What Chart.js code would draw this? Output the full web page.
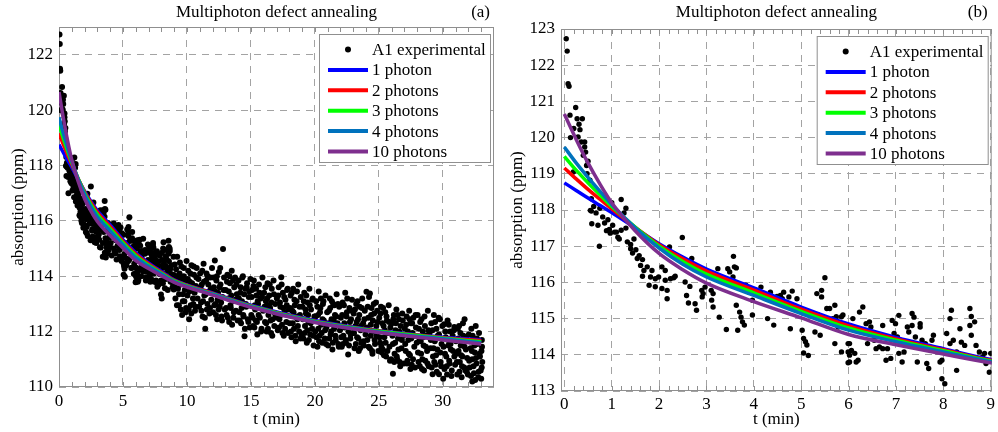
<!DOCTYPE html>
<html>
<head>
<meta charset="utf-8">
<script src="https://cdn.jsdelivr.net/npm/chart.js@4.4.1/dist/chart.umd.min.js"></script>
<style>
  html, body { margin: 0; padding: 0; background: #fff; }
  #wrap { position: relative; width: 998px; height: 432px; overflow: hidden; }
  .panel { position: absolute; top: 0; width: 499px; height: 432px; }
</style>
</head>
<body>
<div id="wrap">
  <div class="panel" style="left:0"><canvas id="chartA" width="499" height="432"></canvas></div>
  <div class="panel" style="left:499px"><canvas id="chartB" width="499" height="432"></canvas></div>
</div>
<script>
const FONT = "'Liberation Serif', 'Times New Roman', serif";

// fitted curves (t in minutes)
const curveTimes = [0, 0.25, 0.5, 0.75, 1, 1.5, 2, 2.5, 3, 4, 5, 6, 7, 8, 9, 12, 15, 20, 25, 30, 33];
const photon1  = [118.75, 118.54, 118.33, 118.13, 117.93, 117.5, 117.07, 116.7, 116.37, 115.85, 115.32, 114.85, 114.48, 114.17, 113.87, 113.4, 112.95, 112.4, 112.03, 111.8, 111.7];
const photon2  = [119.16, 118.86, 118.57, 118.3, 118.03, 117.52, 117.04, 116.65, 116.31, 115.79, 115.26, 114.8, 114.44, 114.14, 113.85, 113.38, 112.93, 112.38, 112.02, 111.78, 111.67];
const photon3  = [119.48, 119.1, 118.75, 118.42, 118.1, 117.52, 117.0, 116.58, 116.23, 115.71, 115.2, 114.74, 114.4, 114.11, 113.83, 113.36, 112.92, 112.37, 112.01, 111.76, 111.63];
const photon4  = [119.74, 119.3, 118.9, 118.52, 118.15, 117.5, 116.95, 116.5, 116.15, 115.64, 115.14, 114.68, 114.36, 114.08, 113.81, 113.35, 112.9, 112.35, 111.99, 111.74, 111.6];
const photon10 = [120.65, 119.95, 119.3, 118.72, 118.2, 117.42, 116.8, 116.35, 115.98, 115.47, 115.02, 114.56, 114.28, 114.02, 113.78, 113.32, 112.88, 112.33, 111.97, 111.7, 111.55];

const seriesLabels = ['1 photon', '2 photons', '3 photons', '4 photons', '10 photons'];
const seriesColors = ['#0000ff', '#ff0000', '#00ff00', '#0072bd', '#7e2f8e'];

// A1 measurement, first 9 minutes  [t (min), absorption (ppm)]
const expEarly = [
  [0.04,122.73],[0.06,122.39],[0.08,121.49],[0.1,121.42],[0.12,120.62],[0.24,120.83],[0.13,120.0],[0.2,120.25],
  [0.27,120.52],[0.31,120.37],[0.38,120.52],[0.33,120.22],[0.29,120.02],[0.36,119.88],[0.43,119.88],[0.43,119.74],
  [0.4,119.51],[0.47,119.23],[0.19,119.05],[0.48,119.0],[0.54,118.82],[0.45,119.6],[0.5,119.35],
  [0.57,118.31],[1.2,118.29],[0.57,117.97],[0.67,117.92],[1.26,117.92],[0.81,117.81],[0.92,117.73],[0.58,117.62],
  [0.71,117.58],[0.85,117.64],[1.02,117.58],[0.95,117.46],[1.06,117.39],[1.2,117.44],[1.13,117.25],[1.16,117.2],
  [0.74,117.0],[0.55,117.99],[0.89,117.43],[0.97,117.36],[1.1,117.39],[0.62,118.1],[0.75,118.05],[1.0,118.2],[1.3,118.05],
  [1.33,117.12],[1.4,117.05],[1.4,116.93],[1.51,116.9],[1.44,116.81],[1.58,116.74],[1.54,116.66],[1.65,116.63],
  [1.61,116.47],[1.75,116.43],[1.68,116.33],[1.85,116.33],[1.82,116.15],[1.99,116.15],[2.06,116.43],[2.13,116.33],
  [1.92,116.1],[1.65,116.17],[1.79,115.92],[1.92,115.88],[2.06,115.83],[2.13,116.06],[2.24,116.1],[2.31,116.13],
  [2.34,116.17],[2.17,115.78],[2.17,115.55],[2.22,116.98],[2.49,117.24],[2.69,116.66],[2.55,116.01],[2.65,115.89],
  [2.58,115.64],[2.62,115.43],[2.76,115.41],[2.79,115.23],[2.9,115.78],[2.97,115.87],[2.91,115.6],[1.3,117.5],[1.47,117.2],
  [2.93,115.69],[3.14,115.69],[3.11,115.51],[3.14,115.32],[3.27,115.04],[3.42,114.7],[3.24,116.38],[3.45,116.38],
  [3.49,116.29],[3.56,116.15],[3.59,116.43],[3.57,116.72],[3.63,115.37],[3.7,115.18],[3.73,115.04],[3.76,114.91],
  [3.66,114.68],[3.8,114.82],[3.83,115.92],[3.9,115.73],[3.97,115.51],[3.97,115.1],[4.15,115.87],[4.29,115.0],
  [4.35,115.73],[4.42,115.55],[4.42,114.82],[4.49,115.61],[4.56,115.64],[4.63,115.73],[4.6,115.55],[4.74,115.6],
  [4.81,115.76],[4.77,114.72],[4.91,115.55],[5.02,114.68],[5.05,114.45],[5.09,114.36],[5.12,114.27],[5.05,114.05],
  [5.15,113.98],[5.29,114.63],[5.33,115.69],[5.36,115.1],[5.4,114.54],[5.43,115.6],[5.43,115.78],[5.5,116.13],
  [5.54,115.28],[5.6,115.28],[5.71,115.37],[5.74,115.05],[5.67,115.0],[5.71,114.31],[5.78,114.77],[5.85,115.05],
  [5.88,115.1],[5.85,114.08],[5.99,114.08],[5.99,113.78],[6.02,113.99],[5.99,114.31],[3.1,115.78],[3.63,116.4],
  [6.09,115.0],[6.23,115.18],[6.3,115.32],[6.02,114.31],[6.06,114.12],[6.13,114.04],[6.02,113.8],[6.2,113.85],
  [6.16,113.8],[6.37,114.86],[6.44,114.91],[6.47,114.77],[6.4,114.31],[6.54,114.4],[6.58,114.17],[6.65,114.22],
  [6.72,114.81],[6.79,113.85],[6.89,113.9],[6.72,114.17],[6.82,114.17],[6.92,114.95],[6.99,114.86],[6.96,114.59],
  [7.03,114.49],[7.06,115.09],[7.06,114.04],[7.17,114.08],[7.13,113.8],[7.24,114.77],[7.34,115.14],[7.38,115.04],
  [7.27,114.63],[7.34,114.81],[7.41,114.49],[7.51,114.77],[7.51,114.86],[7.45,113.8],[7.55,114.4],[7.62,114.31],
  [7.65,113.76],[7.69,113.62],[7.76,114.4],[7.79,114.54],[7.86,114.08],[7.97,113.85],[7.93,113.8],[7.97,113.34],
  [8.03,113.2],[8.07,114.59],[8.14,114.31],[8.17,115.23],[8.14,115.0],[8.21,114.4],[8.28,114.08],[8.28,113.57],
  [8.35,114.72],[8.38,114.35],[8.45,114.26],[8.48,113.94],[8.56,115.28],[8.59,115.06],[8.56,114.81],[8.66,114.91],
  [8.59,114.54],[8.69,114.26],[8.76,114.08],[8.83,113.94],[8.9,113.76],[8.87,114.04],[8.97,113.52],[9.0,114.04]
];

// A1 measurement, 9 to 33 minutes
const expLate = [
  [9.05,114.42],[9.1,113.2],[9.18,113.9],[9.24,114.7],[9.3,113.55],[9.37,112.95],[9.42,114.1],[9.5,113.7],
  [9.56,114.35],[9.62,112.6],[9.68,113.35],[9.75,114.0],[9.8,113.1],[9.87,113.85],[9.93,112.85],[9.97,114.55],
  [10.04,113.3],[10.1,114.2],[10.17,112.45],[10.22,113.8],[10.3,112.95],[10.35,114.4],[10.42,113.55],[10.5,113.0],
  [10.55,114.05],[10.63,112.75],[10.7,113.65],[10.76,114.3],[10.83,113.2],[10.9,113.9],[10.95,112.9],
  [11.03,114.1],[11.1,113.05],[11.16,113.7],[11.22,112.55],[11.3,114.45],[11.36,113.3],[11.43,112.1],[11.5,113.85],
  [11.56,112.8],[11.62,114.0],[11.7,113.45],[11.76,112.65],[11.83,113.95],[11.9,113.15],[11.96,114.3],
  [12.04,112.7],[12.1,113.6],[12.18,114.57],[12.24,113.0],[12.3,113.85],[12.36,112.45],[12.43,113.4],[12.5,114.15],
  [12.56,112.9],[12.62,113.7],[12.7,112.55],[12.77,113.25],[12.82,114.98],[12.9,113.95],[12.95,112.8],
  [13.03,113.5],[13.1,112.6],[13.16,114.05],[13.23,113.2],[13.3,112.35],[13.36,113.75],[13.43,112.85],[13.5,114.2],
  [13.57,113.1],[13.63,112.5],[13.7,113.6],[13.76,113.95],[13.83,112.75],[13.9,113.35],[13.96,112.4],
  [14.03,113.85],[14.1,112.7],[14.17,113.4],[14.23,112.3],[14.3,113.1],[14.37,114.0],[14.43,112.55],[14.5,111.83],
  [14.56,113.55],[14.63,112.9],[14.7,113.75],[14.76,112.45],[14.83,113.25],[14.9,112.15],[14.96,113.9],
  [15.03,112.6],[15.1,113.5],[15.17,112.2],[15.23,113.85],[15.3,112.95],[15.37,112.4],[15.43,113.3],[15.5,111.9],
  [15.56,113.0],[15.63,113.7],[15.7,112.5],[15.76,113.2],[15.83,112.1],[15.9,113.95],[15.96,112.75],
  [16.03,113.4],[16.1,112.35],[16.17,113.1],[16.23,112.0],[16.3,113.75],[16.37,112.6],[16.43,113.3],[16.5,112.85],
  [16.57,111.95],[16.63,113.55],[16.7,112.45],[16.77,113.85],[16.83,112.2],[16.9,113.0],[16.96,112.55],
  [17.03,113.2],[17.1,112.05],[17.17,113.6],[17.23,112.45],[17.3,112.9],[17.37,113.96],[17.43,112.25],[17.5,113.4],
  [17.57,111.85],[17.63,112.7],[17.7,113.15],[17.77,112.35],[17.83,113.5],[17.9,111.95],[17.96,112.8],
  [18.03,112.3],[18.1,113.3],[18.17,111.8],[18.23,112.75],[18.3,113.55],[18.37,112.1],[18.43,112.95],[18.5,111.65],
  [18.57,113.1],[18.63,112.45],[18.7,113.7],[18.77,112.0],[18.83,112.6],[18.9,113.25],[18.96,111.9],
  [19.03,112.9],[19.1,111.75],[19.17,113.4],[19.23,112.2],[19.3,112.65],[19.37,111.6],[19.43,113.05],[19.5,112.35],
  [19.57,113.55],[19.63,111.9],[19.7,112.8],[19.77,112.1],[19.83,113.2],[19.9,111.5],[19.96,112.55],
  [20.03,112.0],[20.1,113.1],[20.2,111.45],[20.25,112.6],[20.3,113.45],[20.37,111.85],[20.43,112.85],[20.5,112.25],
  [20.57,111.6],[20.63,113.0],[20.7,112.4],[20.77,111.75],[20.83,113.3],[20.9,112.15],[20.96,112.7],
  [21.03,111.5],[21.1,112.75],[21.17,113.2],[21.23,111.9],[21.3,112.45],[21.37,111.35],[21.43,113.0],[21.5,112.1],
  [21.57,112.6],[21.63,111.7],[21.7,113.35],[21.77,112.3],[21.83,111.55],[21.9,112.9],[21.96,112.05],
  [22.03,112.5],[22.1,111.45],[22.17,113.05],[22.23,111.85],[22.3,112.3],[22.37,113.4],[22.43,111.6],[22.5,112.7],
  [22.6,111.17],[22.63,112.0],[22.7,112.85],[22.77,111.75],[22.83,112.45],[22.9,113.15],[22.96,111.95],
  [23.03,112.65],[23.1,111.4],[23.17,112.2],[23.23,113.0],[23.3,111.8],[23.37,112.45],[23.43,111.3],[23.5,112.9],
  [23.57,112.05],[23.63,111.6],[23.7,113.2],[23.77,112.3],[23.83,111.5],[23.9,112.75],[23.96,111.9],
  [24.03,113.44],[24.1,111.7],[24.17,112.5],[24.3,113.38],[24.3,111.4],[24.37,112.25],[24.43,112.85],[24.5,111.2],
  [24.57,112.0],[24.63,112.65],[24.7,111.55],[24.77,113.05],[24.83,111.85],[24.9,112.35],[24.96,111.3],
  [25.03,112.5],[25.1,111.6],[25.17,112.9],[25.23,111.25],[25.3,111.35],[25.37,112.2],[25.43,111.8],[25.5,112.7],
  [25.57,111.1],[25.63,112.4],[25.7,111.95],[25.77,112.95],[25.83,111.45],[25.9,112.15],[25.96,111.0],
  [26.03,112.3],[26.1,110.48],[26.1,111.55],[26.17,112.6],[26.23,111.2],[26.3,112.05],[26.37,112.8],[26.43,111.0],
  [26.5,111.75],[26.57,112.45],[26.63,110.9],[26.7,112.2],[26.77,111.4],[26.83,112.65],[26.9,111.85],[26.96,110.85],
  [27.03,112.1],[27.1,111.3],[27.17,112.55],[27.23,110.95],[27.3,111.7],[27.37,112.75],[27.43,111.15],[27.5,112.3],
  [27.57,110.8],[27.63,111.95],[27.7,112.5],[27.77,111.45],[27.83,110.7],[27.9,112.15],[27.96,111.6],
  [28.03,112.6],[28.1,110.9],[28.17,111.75],[28.23,112.35],[28.3,111.2],[28.37,110.65],[28.43,112.0],[28.5,111.5],
  [28.57,112.55],[28.63,110.95],[28.7,111.85],[28.77,111.3],[28.83,112.75],[28.9,110.75],[28.96,111.95],
  [29.03,111.4],[29.1,112.3],[29.2,110.46],[29.23,111.1],[29.3,112.6],[29.37,111.65],[29.43,110.8],[29.5,112.1],
  [29.57,111.35],[29.7,110.46],[29.7,111.9],[29.77,112.45],[29.83,110.9],[29.9,111.55],[29.96,112.2],
  [30.03,110.3],[30.1,112.27],[30.17,111.2],[30.23,111.8],[30.3,110.75],[30.37,112.4],[30.43,111.5],[30.5,110.95],
  [30.57,112.0],[30.63,111.35],[30.7,110.6],[30.77,111.85],[30.9,112.17],[30.9,111.1],[30.96,110.8],
  [31.03,111.65],[31.1,110.9],[31.17,112.1],[31.23,111.3],[31.3,110.55],[31.37,111.95],[31.43,111.15],[31.5,110.75],
  [31.57,112.3],[31.7,112.45],[31.7,111.45],[31.77,110.6],[31.83,111.8],[31.9,111.05],[31.96,110.45],
  [32.03,111.9],[32.1,110.7],[32.17,111.4],[32.23,112.1],[32.3,110.2],[32.3,111.0],[32.37,111.7],[32.43,110.5],
  [32.5,111.25],[32.57,112.2],[32.63,110.85],[32.7,111.55],[32.77,110.35],[32.83,111.95],[32.9,111.1],[32.96,110.6],
  [33.0,110.3],[33.02,111.3],[33.05,111.7],[33.08,110.9]
];

// further samples that only show in the full-length panel (a)
const expExtra = [
  [1.05,117.1],[1.12,117.6],[1.18,116.85],[1.25,117.4],[1.32,116.7],[1.38,117.3],[1.45,116.55],[1.52,117.0],
  [1.6,116.2],[1.68,116.8],[1.75,116.0],[1.82,116.6],[1.9,115.75],[1.96,116.35],
  [2.03,116.7],[2.1,115.6],[2.18,116.25],[2.25,115.45],[2.32,116.6],[2.4,115.9],[2.47,115.3],[2.55,116.3],
  [2.62,115.7],[2.7,116.1],[2.78,115.35],[2.85,115.95],[2.92,115.2],[2.98,116.2],
  [3.04,115.4],[3.12,116.0],[3.2,115.05],[3.28,115.75],[3.35,116.2],[3.43,115.2],[3.5,115.6],[3.58,114.85],
  [3.65,115.9],[3.72,115.3],[3.8,115.65],[3.88,114.95],[3.95,115.4],
  [4.04,115.2],[4.12,114.75],[4.2,115.5],[4.28,115.9],[4.35,114.9],[4.43,115.3],[4.5,114.6],[4.58,115.1],
  [4.65,115.85],[4.72,114.95],[4.8,115.35],[4.88,114.55],[4.95,115.05],
  [5.04,115.5],[5.12,114.8],[5.2,115.2],[5.27,114.4],[5.35,114.95],[5.42,115.45],[5.5,114.6],[5.58,115.0],
  [5.65,114.3],[5.72,115.6],[5.8,114.75],[5.88,114.45],[5.95,115.25],
  [6.04,114.55],[6.12,115.3],[6.2,114.2],[6.28,114.75],[6.35,115.1],[6.42,114.0],[6.5,114.6],[6.58,115.35],
  [6.65,114.4],[6.72,114.95],[6.8,113.95],[6.88,114.5],[6.95,115.15],
  [7.04,114.25],[7.12,114.95],[7.2,113.9],[7.28,114.5],[7.35,115.2],[7.42,114.1],[7.5,114.65],[7.58,113.85],
  [7.65,114.9],[7.72,114.3],[7.8,113.7],[7.88,114.75],[7.95,114.15],
  [8.04,114.85],[8.12,113.75],[8.2,114.45],[8.28,114.95],[8.35,113.9],[8.42,114.6],[8.5,113.5],[8.58,114.2],
  [8.65,115.0],[8.72,113.8],[8.8,114.4],[8.88,113.6],[8.95,114.7],
  [9.08,113.6],[9.15,114.25],[9.22,112.95],[9.3,114.0],[9.38,113.35],[9.45,114.5],[9.52,112.8],[9.6,113.9],
  [9.68,113.1],[9.75,114.3],[9.83,113.5],[9.9,112.7],
  [10.07,113.9],[10.14,112.8],[10.2,113.45],[10.27,114.1],[10.34,112.65],[10.4,113.75],[10.47,113.2],[10.53,114.35],
  [10.6,113.4],[10.67,112.9],[10.74,113.95],[10.86,113.55],
  [11.06,113.6],[11.13,112.75],[11.2,114.2],[11.26,113.1],[11.33,113.8],[11.4,112.5],[11.47,113.35],[11.53,114.1],
  [11.6,113.0],[11.67,113.7],[11.8,112.85],[11.87,113.55],
  [12.07,113.95],[12.14,112.95],[12.2,113.45],[12.27,112.6],[12.34,114.0],[12.4,113.15],[12.47,112.8],[12.53,113.6],
  [12.6,114.3],[12.67,113.05],[12.74,112.4],[12.86,113.5],
  [13.06,112.85],[13.13,113.8],[13.2,112.5],[13.27,113.45],[13.33,114.0],[13.4,112.95],[13.47,113.3],[13.53,112.25],
  [13.6,113.85],[13.67,112.7],[13.8,113.15],[13.87,113.7],
  [14.06,113.2],[14.13,112.4],[14.2,113.6],[14.27,112.85],[14.33,113.95],[14.4,112.6],[14.47,113.35],[14.53,112.1],
  [14.6,113.0],[14.67,113.6],[14.8,112.35],[14.87,113.45],
  [15.06,113.25],[15.13,112.5],[15.2,113.65],[15.27,112.15],[15.33,112.8],[15.4,113.55],[15.47,112.35],[15.53,113.1],
  [15.6,112.6],[15.67,113.4],[15.8,112.0],[15.87,113.25],
  [16.06,112.9],[16.13,113.6],[16.2,112.3],[16.27,113.2],[16.33,112.1],[16.4,112.95],[16.47,113.7],[16.53,112.4],
  [16.6,113.05],[16.67,111.85],[16.8,113.35],[16.87,112.65],
  [17.06,112.5],[17.13,113.3],[17.2,112.15],[17.27,113.05],[17.33,112.6],[17.4,113.7],[17.47,111.95],[17.53,112.85],
  [17.6,113.25],[17.67,112.1],[17.8,112.95],[17.87,113.55],
  [18.06,112.85],[18.13,112.0],[18.2,113.4],[18.27,112.3],[18.33,112.7],[18.4,113.15],[18.47,111.85],[18.53,112.55],
  [18.6,113.45],[18.67,112.2],[18.8,112.9],[18.87,111.75],
  [19.06,112.45],[19.13,113.1],[19.2,111.95],[19.27,112.8],[19.33,113.3],[19.4,112.05],[19.47,112.6],[19.53,111.7],
  [19.6,112.95],[19.67,112.3],[19.8,113.15],[19.87,111.85],
  [20.06,112.55],[20.13,111.8],[20.2,112.9],[20.27,112.1],[20.33,111.65],[20.4,112.7],[20.47,113.2],[20.53,111.95],
  [20.6,112.45],[20.67,113.1],[20.8,112.05],[20.87,111.55],
  [21.06,112.3],[21.13,111.75],[21.2,112.85],[21.27,112.0],[21.33,113.1],[21.4,111.6],[21.47,112.4],[21.53,112.95],
  [21.6,111.85],[21.67,112.55],[21.8,113.0],[21.87,111.45],
  [22.06,111.8],[22.13,112.6],[22.2,111.55],[22.27,112.95],[22.33,112.15],[22.4,111.7],[22.47,112.55],[22.53,113.2],
  [22.67,111.5],[22.74,112.35],[22.8,111.9],[22.87,112.75],
  [23.06,111.95],[23.13,112.8],[23.2,111.55],[23.27,112.35],[23.33,113.1],[23.4,111.75],[23.47,112.6],[23.53,111.4],
  [23.6,112.2],[23.67,112.85],[23.8,111.65],[23.87,112.45],
  [24.06,112.15],[24.13,112.9],[24.2,111.45],[24.23,113.25],[24.37,111.85],[24.4,112.6],[24.47,111.3],[24.53,112.4],
  [24.6,113.0],[24.67,111.7],[24.8,112.2],[24.87,112.75],
  [25.06,111.8],[25.13,112.65],[25.2,111.45],[25.27,112.3],[25.33,112.85],[25.4,111.15],[25.47,112.05],[25.53,111.6],
  [25.6,112.55],[25.67,111.3],[25.8,112.35],[25.87,110.95],
  [26.06,111.85],[26.13,112.45],[26.2,110.9],[26.27,111.6],[26.33,112.3],[26.4,111.1],[26.47,112.6],[26.53,111.35],
  [26.6,112.0],[26.67,110.75],[26.8,111.7],[26.87,112.4],
  [27.06,111.55],[27.13,112.25],[27.2,110.85],[27.27,112.0],[27.33,111.2],[27.4,112.45],[27.47,110.65],[27.53,111.75],
  [27.6,112.3],[27.67,111.0],[27.8,111.85],[27.87,112.6],
  [28.06,111.25],[28.13,112.1],[28.2,110.75],[28.27,111.65],[28.33,112.45],[28.4,111.0],[28.47,111.8],[28.53,110.6],
  [28.6,112.2],[28.67,111.45],[28.8,110.85],[28.87,112.05],
  [29.06,111.7],[29.13,110.7],[29.2,112.05],[29.27,111.4],[29.33,110.9],[29.4,112.35],[29.47,111.15],[29.53,110.55],
  [29.6,111.85],[29.67,112.5],[29.8,111.25],[29.87,110.75],
  [30.06,111.45],[30.13,110.65],[30.2,112.0],[30.27,111.1],[30.33,110.45],[30.4,111.7],[30.47,112.25],[30.53,110.85],
  [30.6,111.55],[30.67,110.4],[30.8,111.3],[30.87,112.05],
  [31.06,111.2],[31.13,110.45],[31.2,111.75],[31.27,112.2],[31.33,110.9],[31.4,111.5],[31.47,110.35],[31.53,111.1],
  [31.6,111.85],[31.67,110.7],[31.8,111.35],[31.87,110.55],
  [32.06,110.95],[32.13,111.65],[32.2,110.4],[32.27,111.3],[32.33,111.85],[32.4,110.75],[32.47,111.5],[32.53,110.25],
  [32.6,111.05],[32.67,111.75],[32.8,110.55],[32.87,111.2],[33.04,110.7],[33.06,111.45]
];

const xTicksA = [0, 5, 10, 15, 20, 25, 30];
const yTicksA = [110, 112, 114, 116, 118, 120, 122];
const xTicksB = [0, 1, 2, 3, 4, 5, 6, 7, 8, 9];
const yTicksB = [113, 114, 115, 116, 117, 118, 119, 120, 121, 122, 123];

const toXY = pts => pts.map(p => ({ x: p[0], y: p[1] }));

// frame, minor ticks, title and the boxed legend
const panelDecor = {
  id: 'panelDecor',
  beforeDatasetsDraw(chart, args, opts) {
    const { ctx, chartArea: { left, right, top, bottom } } = chart;
    const xs = chart.scales.x;
    ctx.save();
    ctx.strokeStyle = '#8f8f8f';
    ctx.lineWidth = 1;
    ctx.beginPath();
    for (let v = opts.minorStep; v < xs.max; v += opts.minorStep) {
      const px = Math.round(xs.getPixelForValue(v)) + 0.5;
      ctx.moveTo(px, bottom); ctx.lineTo(px, bottom - 5);
      ctx.moveTo(px, top); ctx.lineTo(px, top + 5);
    }
    ctx.stroke();
    ctx.strokeRect(left + 0.5, top + 0.5, right - left - 1, bottom - top - 1);
    ctx.restore();
  },
  afterDraw(chart, args, opts) {
    const { ctx, chartArea: { left, right, top } } = chart;
    ctx.save();
    ctx.fillStyle = '#000';
    ctx.font = `17px ${FONT}`;
    ctx.textBaseline = 'middle';
    ctx.textAlign = 'center';
    ctx.fillText(opts.title, (left + right) / 2, 13);
    ctx.textAlign = 'right';
    ctx.fillText(opts.tag, right - 4, 13);

    // legend box
    const w = 171, h = 128;
    const bx = right - 4 - w, by = top + 7;
    ctx.fillStyle = '#fff';
    ctx.fillRect(bx, by, w, h);
    ctx.strokeStyle = '#8f8f8f';
    ctx.lineWidth = 1;
    ctx.strokeRect(bx + 0.5, by + 0.5, w, h);
    ctx.textAlign = 'left';
    chart.data.datasets.forEach((ds, i) => {
      const cy = by + 15.5 + i * 20.4;
      if (ds.type === 'scatter') {
        ctx.fillStyle = '#000';
        ctx.beginPath();
        ctx.arc(bx + 29, cy, 3, 0, Math.PI * 2);
        ctx.fill();
      } else {
        ctx.strokeStyle = ds.borderColor;
        ctx.lineWidth = 4;
        ctx.beginPath();
        ctx.moveTo(bx + 9, cy);
        ctx.lineTo(bx + 49, cy);
        ctx.stroke();
      }
      ctx.fillStyle = '#000';
      ctx.fillText(ds.label, bx + 53, cy + 1);
    });
    ctx.restore();
  }
};

function makeDatasets(points, radius) {
  const sets = [{
    type: 'scatter',
    label: 'A1 experimental',
    data: toXY(points),
    pointRadius: radius,
    pointBorderWidth: 0,
    pointBackgroundColor: '#000',
    order: 10
  }];
  [photon1, photon2, photon3, photon4, photon10].forEach((vals, i) => {
    sets.push({
      type: 'line',
      label: seriesLabels[i],
      data: curveTimes.map((t, j) => ({ x: t, y: vals[j] })),
      borderColor: seriesColors[i],
      borderWidth: 3.5,
      pointRadius: 0,
      fill: false,
      cubicInterpolationMode: 'monotone',
      order: 5 - i
    });
  });
  return sets;
}

function axisFont() {
  return { family: FONT, size: 17, weight: 'normal' };
}

function makeChart(id, cfg) {
  return new Chart(document.getElementById(id), {
    data: { datasets: makeDatasets(cfg.points, cfg.radius) },
    plugins: [panelDecor],
    options: {
      responsive: false,
      devicePixelRatio: 1,
      animation: false,
      events: [],
      layout: { padding: { top: cfg.top, right: cfg.right, left: 0, bottom: 0 } },
      plugins: {
        legend: { display: false },
        tooltip: { enabled: false },
        panelDecor: { title: 'Multiphoton defect annealing', tag: cfg.tag, minorStep: cfg.minorStep }
      },
      scales: {
        x: {
          type: 'linear',
          min: cfg.xMin, max: cfg.xMax,
          afterBuildTicks: s => { s.ticks = cfg.xTicks.map(v => ({ value: v })); },
          afterFit: s => { s.height = cfg.xHeight; },
          grid: { color: '#a3a3a3', lineWidth: 1, drawTicks: false },
          border: { display: false, dash: [7, 6] },
          ticks: { font: axisFont(), color: '#000', padding: cfg.xPad, maxRotation: 0, autoSkip: false },
          title: { display: true, text: 't (min)', font: axisFont(), color: '#000', padding: { top: 0, bottom: 2 } }
        },
        y: {
          type: 'linear',
          min: cfg.yMin, max: cfg.yMax,
          afterBuildTicks: s => { s.ticks = cfg.yTicks.map(v => ({ value: v })); },
          afterFit: s => { s.width = cfg.yWidth; },
          grid: { color: '#a3a3a3', lineWidth: 1, drawTicks: false },
          border: { display: false, dash: [7, 6] },
          ticks: { font: axisFont(), color: '#000', padding: 6, autoSkip: false },
          title: { display: true, text: 'absorption (ppm)', font: axisFont(), color: '#000', padding: { top: 8, bottom: 0 } }
        }
      }
    }
  });
}

makeChart('chartA', {
  points: expEarly.concat(expLate, expExtra), radius: 3, tag: '(a)',
  top: 27, right: 5, xHeight: 45, yWidth: 59, xPad: 4,
  xMin: 0, xMax: 34, yMin: 110, yMax: 123,
  xTicks: xTicksA, yTicks: yTicksA, minorStep: 1
});

makeChart('chartB', {
  points: expEarly, radius: 2.7, tag: '(b)',
  top: 29, right: 1, xHeight: 41, yWidth: 62, xPad: 3,
  xMin: -0.07, xMax: 9.02, yMin: 113, yMax: 123,
  xTicks: xTicksB, yTicks: yTicksB, minorStep: 0.2
});
</script>
</body>
</html>
